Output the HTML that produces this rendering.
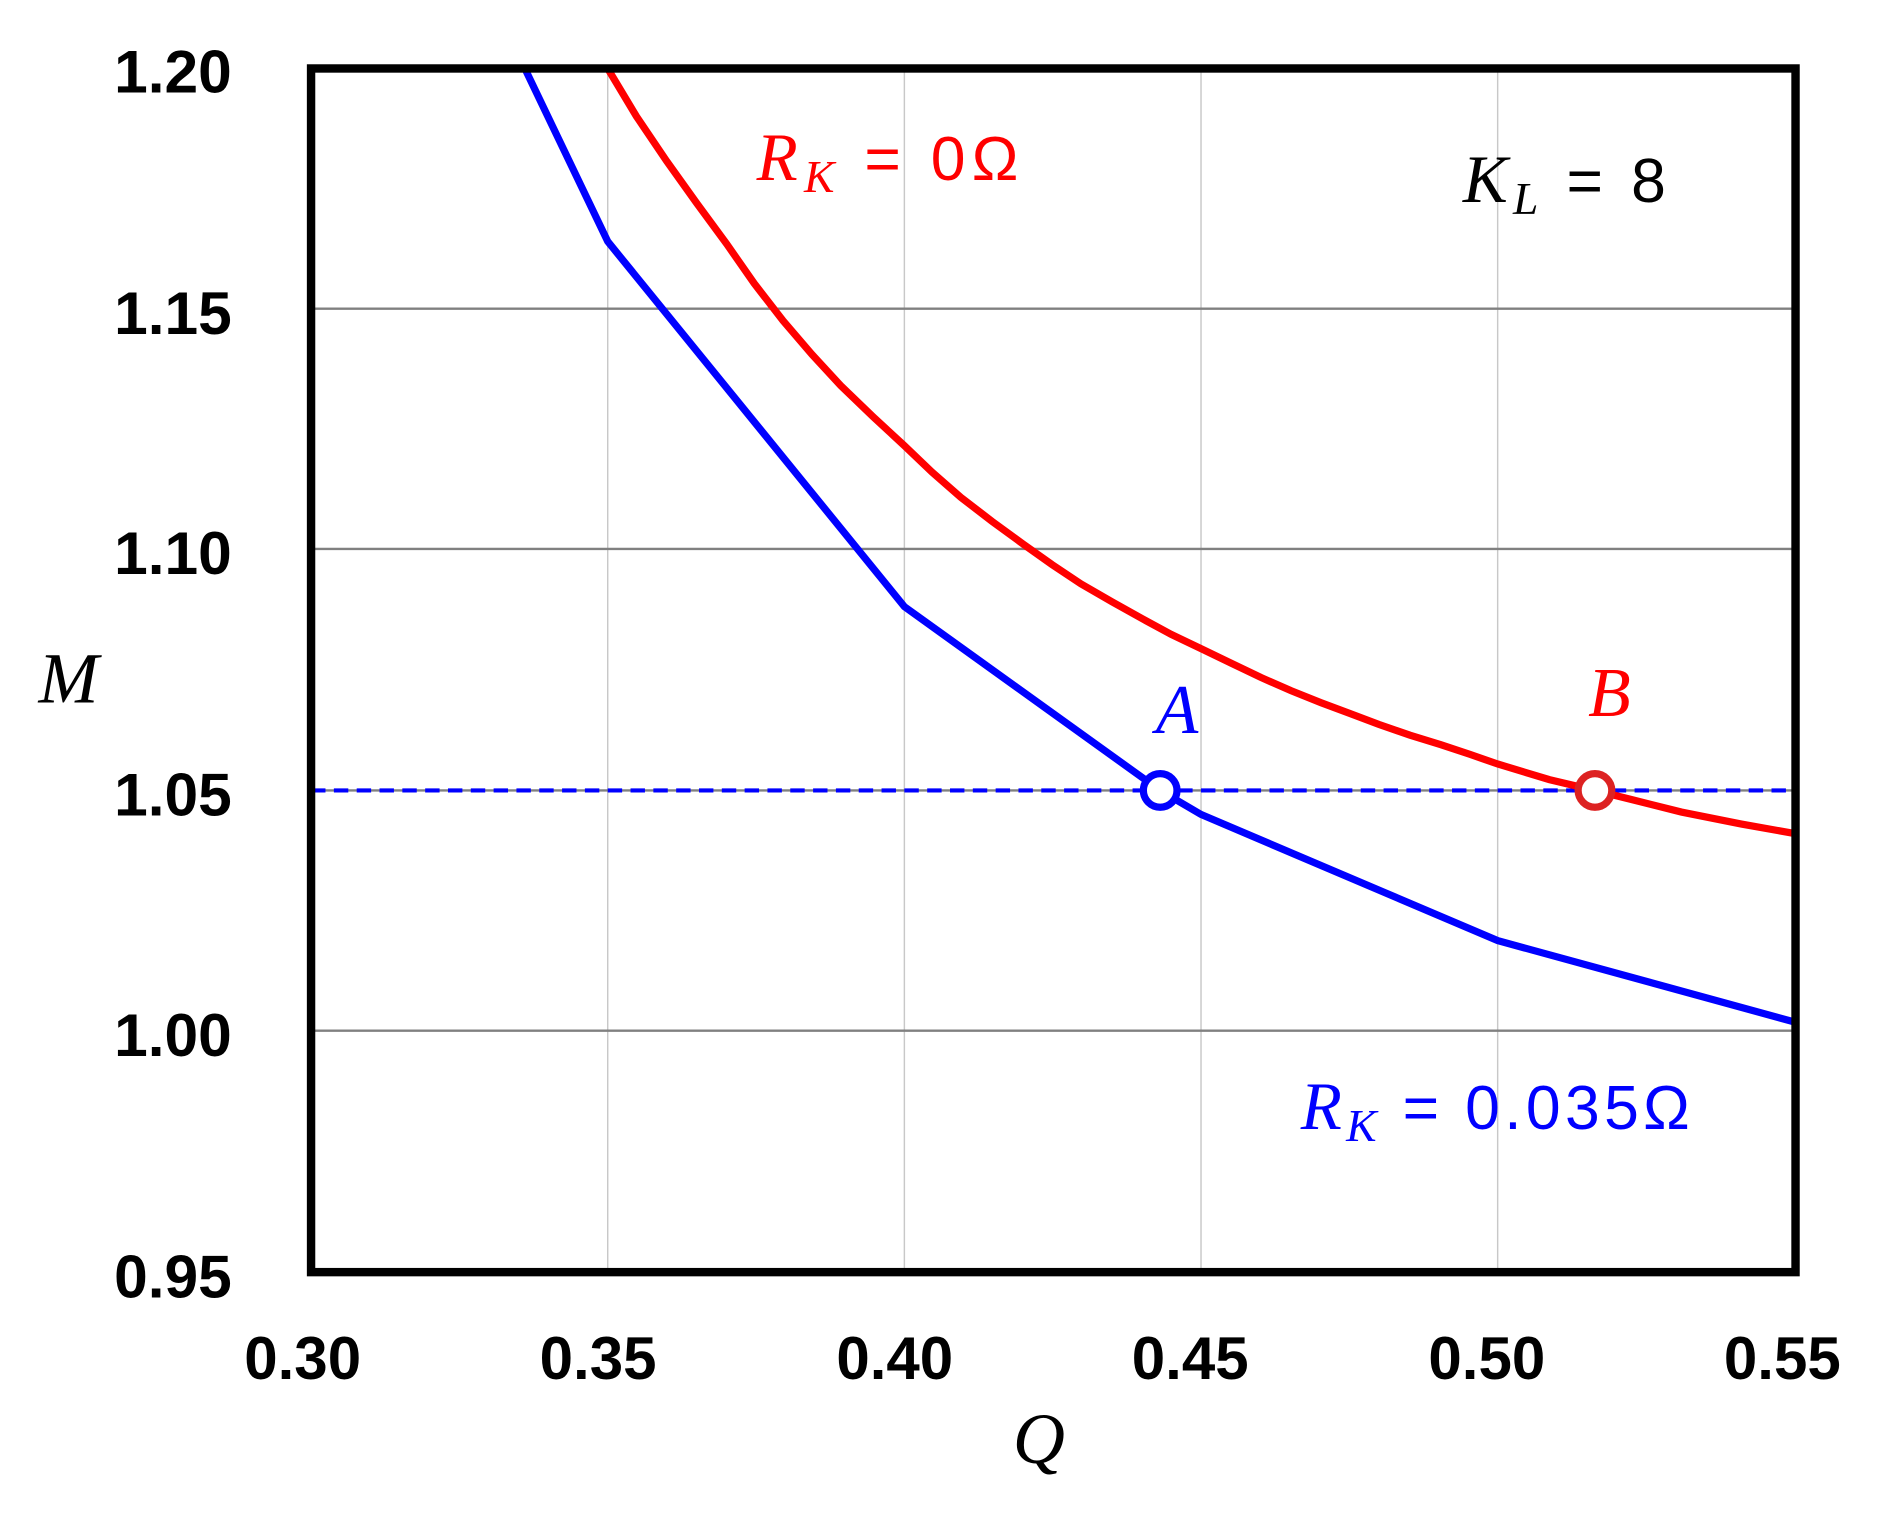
<!DOCTYPE html>
<html><head><meta charset="utf-8"><style>
html,body{margin:0;padding:0;background:#fff;}
svg{display:block;}
.t{font-family:"Liberation Sans",sans-serif;font-weight:bold;font-size:50px;fill:#000;}
.m{font-family:"Liberation Serif",serif;font-style:italic;}
</style></head><body>
<svg width="1882" height="1522" viewBox="0 0 1567 1267" preserveAspectRatio="none" xmlns="http://www.w3.org/2000/svg">
<rect width="1567" height="1267" fill="#fff"/>
<g stroke="#c8c8c8" stroke-width="1.2">
<line x1="506" y1="57" x2="506" y2="1059"/><line x1="753" y1="57" x2="753" y2="1059"/>
<line x1="1000" y1="57" x2="1000" y2="1059"/><line x1="1247" y1="57" x2="1247" y2="1059"/>
</g>
<g stroke="#808080" stroke-width="2">
<line x1="259" y1="257" x2="1495" y2="257"/><line x1="259" y1="457" x2="1495" y2="457"/>
<line x1="259" y1="858" x2="1495" y2="858"/><line x1="259" y1="658" x2="1495" y2="658"/>
</g>
<line x1="259" y1="658" x2="1495" y2="658" stroke="#0000ff" stroke-width="3.5" stroke-dasharray="12,7"/>
<polyline fill="none" stroke="#0000ff" stroke-width="6" points="437,57 506,201 753,505 966,658 1000,678 1247,783 1495,851"/>
<polyline fill="none" stroke="#ff0000" stroke-width="6" points="506,57 530,97 555,134 580,169 605,203 628,236 652,267 676,295 700,321 727,347 753,371 776,393 800,414 826,434 852,453 876,470 900,486 926,501 951,515 975,528 1000,540 1025,552 1050,564 1075,575 1100,585 1124,594 1148,603 1174,612 1200,620 1224,628 1247,636 1290,649 1328,658 1360,666 1400,676 1450,686 1495,694"/>
<circle cx="966" cy="658" r="14" fill="#fff" stroke="#0000ff" stroke-width="6"/>
<circle cx="1328" cy="658" r="14" fill="#fff" stroke="#dd2222" stroke-width="6"/>
<rect x="259" y="57" width="1236" height="1002" fill="none" stroke="#000" stroke-width="7"/>
<g class="t" text-anchor="end">
<text x="193" y="77" textLength="98" lengthAdjust="spacingAndGlyphs">1.20</text><text x="193" y="278" textLength="98" lengthAdjust="spacingAndGlyphs">1.15</text><text x="193" y="478" textLength="98" lengthAdjust="spacingAndGlyphs">1.10</text>
<text x="193" y="679" textLength="98" lengthAdjust="spacingAndGlyphs">1.05</text><text x="193" y="879" textLength="98" lengthAdjust="spacingAndGlyphs">1.00</text><text x="193" y="1080" textLength="98" lengthAdjust="spacingAndGlyphs">0.95</text>
</g>
<g class="t" text-anchor="middle">
<text x="252" y="1148">0.30</text><text x="498" y="1148">0.35</text><text x="745" y="1148">0.40</text>
<text x="991" y="1148">0.45</text><text x="1238" y="1148">0.50</text><text x="1484" y="1148">0.55</text>
</g>
<text class="m" x="865" y="1218" font-size="60" text-anchor="middle">Q</text>
<text class="m" x="57" y="585" font-size="60" text-anchor="middle">M</text>
<text class="m" x="630" y="150" font-size="56" fill="#ff0000" textLength="218" lengthAdjust="spacing">R<tspan font-size="38" dy="10">K</tspan><tspan dy="-10" font-style="normal" font-family="Liberation Sans,sans-serif" font-size="52"> = 0Ω</tspan></text>
<text class="m" x="1218" y="168" font-size="56" fill="#000" textLength="169" lengthAdjust="spacing">K<tspan font-size="38" dy="10">L</tspan><tspan dy="-10" font-style="normal" font-family="Liberation Sans,sans-serif" font-size="52"> = 8</tspan></text>
<text class="m" x="980" y="610" font-size="58" fill="#0000ff" text-anchor="middle">A</text>
<text class="m" x="1340" y="596" font-size="58" fill="#ff0000" text-anchor="middle">B</text>
<text class="m" x="1083" y="940" font-size="56" fill="#0000ff" textLength="324" lengthAdjust="spacing">R<tspan font-size="38" dy="10">K</tspan><tspan dy="-10" font-style="normal" font-family="Liberation Sans,sans-serif" font-size="52"> = 0.035Ω</tspan></text>
</svg>
</body></html>
